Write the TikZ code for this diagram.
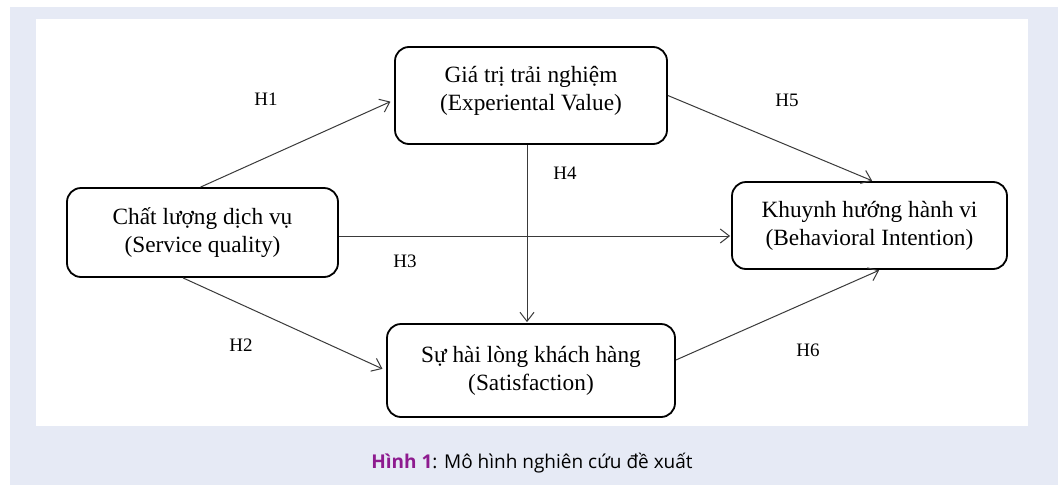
\documentclass[tikz,border=0pt]{standalone}
\usepackage{fontspec}
\setmainfont{Liberation Serif}
\newfontfamily\capfont{Open Sans}
\usetikzlibrary{arrows.meta}
\definecolor{lav}{HTML}{E6EAF5}
\definecolor{capurple}{HTML}{8E1B8F}
\definecolor{linegrey}{HTML}{3A3A3A}
\tikzset{
  box/.style={draw=black, line width=1.8pt, rounded corners=14pt, align=center,
    font=\fontsize{23.3}{28}\selectfont, inner sep=0pt},
  boxtext/.style={align=center, font=\fontsize{23.3}{28}\selectfont, inner sep=0pt},
  conn/.style={draw=linegrey, line width=1pt,
    -{Straight Barb[length=9pt,width=14pt,line width=1pt]}, shorten >=3pt},
  hlab/.style={font=\fontsize{19}{22}\selectfont, inner sep=0pt}
}
\begin{document}
\begin{tikzpicture}[x=1pt,y=-1pt]
\useasboundingbox (0,0) rectangle (1058,485);
\fill[lav] (10,7) rectangle (1058,485);
\fill[white] (36,19) rectangle (1028,426);

\node[box, minimum width=272pt, minimum height=97pt] (T) at (531,95.5) {};
\node[boxtext] (Tt) at ([yshift=5pt]T.center) {Giá trị trải nghiệm\\(Experiental Value)};
\node[box, minimum width=271pt, minimum height=89pt] (L) at (202.5,232.5)
  {Chất lượng dịch vụ\\(Service quality)};
\node[box, minimum width=275pt, minimum height=87pt] (R) at (869.5,225.5)
  {Khuynh hướng hành vi\\(Behavioral Intention)};
\node[box, minimum width=288pt, minimum height=93pt] (B) at (531,370.5)
  {Sự hài lòng khách hàng\\(Satisfaction)};

\coordinate (h1s) at ([xshift=-2pt]L.north);
\coordinate (h1e) at ([yshift=-4.5pt]T.west);
\coordinate (h5e) at ([xshift=3.5pt]R.north);
\coordinate (h4s) at ([xshift=-4pt]T.south);
\coordinate (h3s) at ([yshift=-3.5pt]L.east);
\coordinate (h2s) at ([xshift=-19.5pt]L.south);
\coordinate (h6s) at ([yshift=10.5pt]B.east);
\coordinate (h6e) at ([xshift=10.5pt]R.south);

\draw[conn, shorten >=4pt] (h1s) -- (h1e);
\draw[conn, shorten >=1pt] (T.east) -- (h5e);
\draw[conn, shorten >=1pt] (h4s) -- (B.north -| h4s);
\draw[conn, shorten >=1pt] (h3s) -- (R.west |- h3s);
\draw[conn, shorten >=4pt] (h2s) -- (B.west);
\draw[conn, shorten >=1pt] (h6s) -- (h6e);

\node[hlab] (H1) at (266,99) {H1};
\node[hlab] (H5) at (787,100) {H5};
\node[hlab] (H4) at (565,173) {H4};
\node[hlab] (H3) at (405,261) {H3};
\node[hlab] (H2) at (241,345) {H2};
\node[hlab] (H6) at (808,350) {H6};

\node[font=\capfont\fontsize{19}{22}\selectfont, inner sep=0pt] (cap) at (532,463)
  {\textcolor{capurple}{\bfseries Hình 1}: Mô hình nghiên cứu đề xuất};
\end{tikzpicture}
\end{document}
